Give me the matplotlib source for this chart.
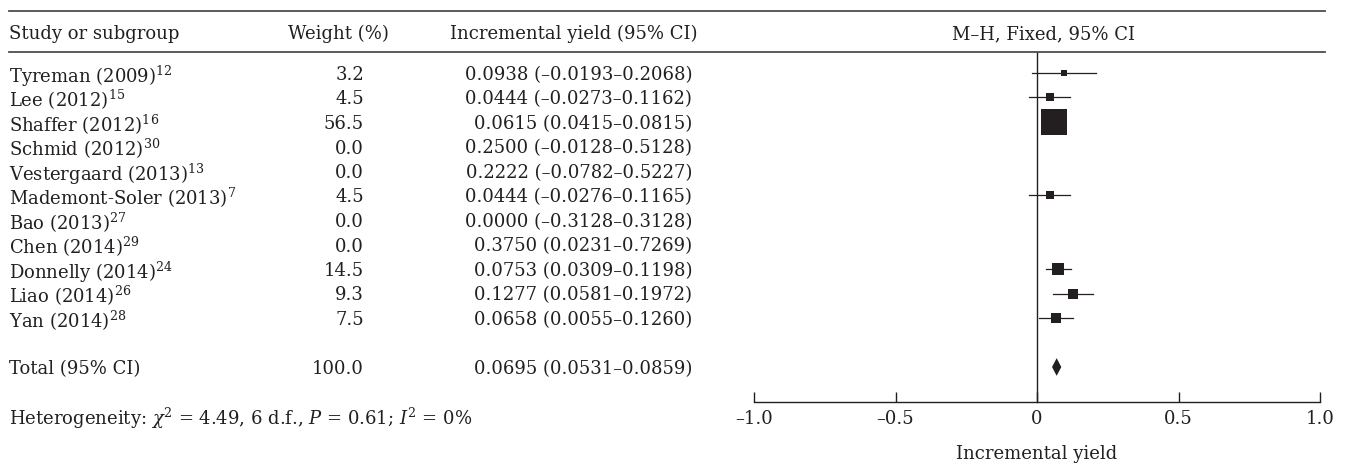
import numpy as np
import matplotlib
matplotlib.use('Agg')
import matplotlib.pyplot as plt
from matplotlib import transforms
from matplotlib.patches import Polygon

plt.rcParams['font.family'] = ['DejaVu Serif']
plt.rcParams['mathtext.fontset'] = 'dejavuserif'

# data
studies = ['Tyreman (2009)', 'Lee (2012)', 'Shaffer (2012)', 'Schmid (2012)',
           'Vestergaard (2013)', 'Mademont-Soler (2013)', 'Bao (2013)',
           'Chen (2014)', 'Donnelly (2014)', 'Liao (2014)', 'Yan (2014)']
refs = ['12', '15', '16', '30', '13', '7', '27', '29', '24', '26', '28']
weights = [3.2, 4.5, 56.5, 0.0, 0.0, 4.5, 0.0, 0.0, 14.5, 9.3, 7.5]
yields = [0.0938, 0.0444, 0.0615, 0.2500, 0.2222, 0.0444, 0.0000, 0.3750,
          0.0753, 0.1277, 0.0658]
lower = [-0.0193, -0.0273, 0.0415, -0.0128, -0.0782, -0.0276, -0.3128, 0.0231,
         0.0309, 0.0581, 0.0055]
upper = [0.2068, 0.1162, 0.0815, 0.5128, 0.5227, 0.1165, 0.3128, 0.7269,
         0.1198, 0.1972, 0.1260]
total_weight = 100.0
total_yield = 0.0695
total_lower = 0.0531
total_upper = 0.0859
xticks = [-1.0, -0.5, 0, 0.5, 1.0]
xticklabels = ['\u20131.0', '\u20130.5', '0', '0.5', '1.0']

W, H = 1347, 469
ink = '#231f20'
fs = 13

fig = plt.figure(figsize=(W / 100, H / 100), dpi=100)
# forest axes: x -1..1 at px 754..1320, bottom spine at px 402
ax = fig.add_axes([754 / W, (H - 402) / H, 566 / W, 402 / H])
row0, step = 73, 24.5
ax.set_xlim(-1, 1)
ax.set_ylim((402 - row0) / step, -row0 / step)

for s in ['top', 'right', 'left']:
    ax.spines[s].set_visible(False)
ax.spines['bottom'].set_color(ink)
ax.spines['bottom'].set_linewidth(1.0)
ax.set_yticks([])
ax.set_xticks(xticks)
ax.set_xticklabels(xticklabels)
ax.tick_params(axis='x', direction='in', length=7.5, width=1.0, color=ink,
               labelsize=fs, labelcolor=ink, pad=6)
ax.set_xlabel('Incremental yield', fontsize=fs, color=ink, labelpad=12)

hdr_line = (52 - row0) / step
top_line = (11 - row0) / step
hdr_text = (34 - row0) / step
ax.plot([0, 0], [hdr_line, ax.get_ylim()[0]], color=ink, lw=1.0, clip_on=False)

rows = np.arange(len(studies))
for r, w, y, lo, hi in zip(rows, weights, yields, lower, upper):
    if w <= 0:
        continue
    ax.plot([lo, hi], [r, r], color=ink, lw=0.9)
    ax.plot(y, r, marker='s', color=ink, ms=2.4 * np.sqrt(w), mec=ink, mew=0)

total_row = 12
dh = 0.36
ax.add_patch(Polygon([[total_lower, total_row], [total_yield, total_row - dh],
                      [total_upper, total_row], [total_yield, total_row + dh]],
                     closed=True, color=ink, lw=0))

# table columns, x in figure pixels
tr = transforms.blended_transform_factory(fig.transFigure, ax.transData)
def fx(px):
    return px / W

for yl in [top_line, hdr_line]:
    ax.plot([fx(9), fx(1325)], [yl, yl], transform=tr, color='#4d4d4d',
            lw=1.3, clip_on=False)

ax.text(fx(9), hdr_text, 'Study or subgroup', transform=tr, fontsize=fs,
        color=ink, va='center', ha='left')
ax.text(fx(338), hdr_text, 'Weight (%)', transform=tr, fontsize=fs,
        color=ink, va='center', ha='center')
ax.text(fx(574), hdr_text, 'Incremental yield (95% CI)', transform=tr,
        fontsize=fs, color=ink, va='center', ha='center')
ax.text(fx(1044), hdr_text, 'M\u2013H, Fixed, 95% CI', transform=tr,
        fontsize=fs, color=ink, va='center', ha='center')

def ci_text(y, lo, hi):
    return f'{y:.4f} ({lo:.4f}\u2013{hi:.4f})'.replace('-', '\u2013')

for r, name, ref, w, y, lo, hi in zip(rows, studies, refs, weights, yields,
                                      lower, upper):
    ax.text(fx(9), r, name + r'$^{\mathrm{' + ref + '}}$', transform=tr,
            fontsize=fs, color=ink, va='center_baseline', ha='left')
    ax.text(fx(364), r, f'{w:.1f}', transform=tr, fontsize=fs, color=ink,
            va='center_baseline', ha='right')
    ax.text(fx(692), r, ci_text(y, lo, hi), transform=tr, fontsize=fs,
            color=ink, va='center_baseline', ha='right')

ax.text(fx(9), total_row, 'Total (95% CI)', transform=tr, fontsize=fs,
        color=ink, va='center_baseline', ha='left')
ax.text(fx(364), total_row, f'{total_weight:.1f}', transform=tr, fontsize=fs,
        color=ink, va='center_baseline', ha='right')
ax.text(fx(692), total_row, ci_text(total_yield, total_lower, total_upper),
        transform=tr, fontsize=fs, color=ink, va='center_baseline', ha='right')

het_row = (415 - row0) / step
ax.text(fx(9), het_row,
        r'Heterogeneity: $\chi^{\mathrm{2}}$ = 4.49, 6 d.f., $P$ = 0.61; $I^{\mathrm{2}}$ = 0%',
        transform=tr, fontsize=fs, color=ink, va='center_baseline', ha='left')

fig.savefig('out.png', dpi=100)
